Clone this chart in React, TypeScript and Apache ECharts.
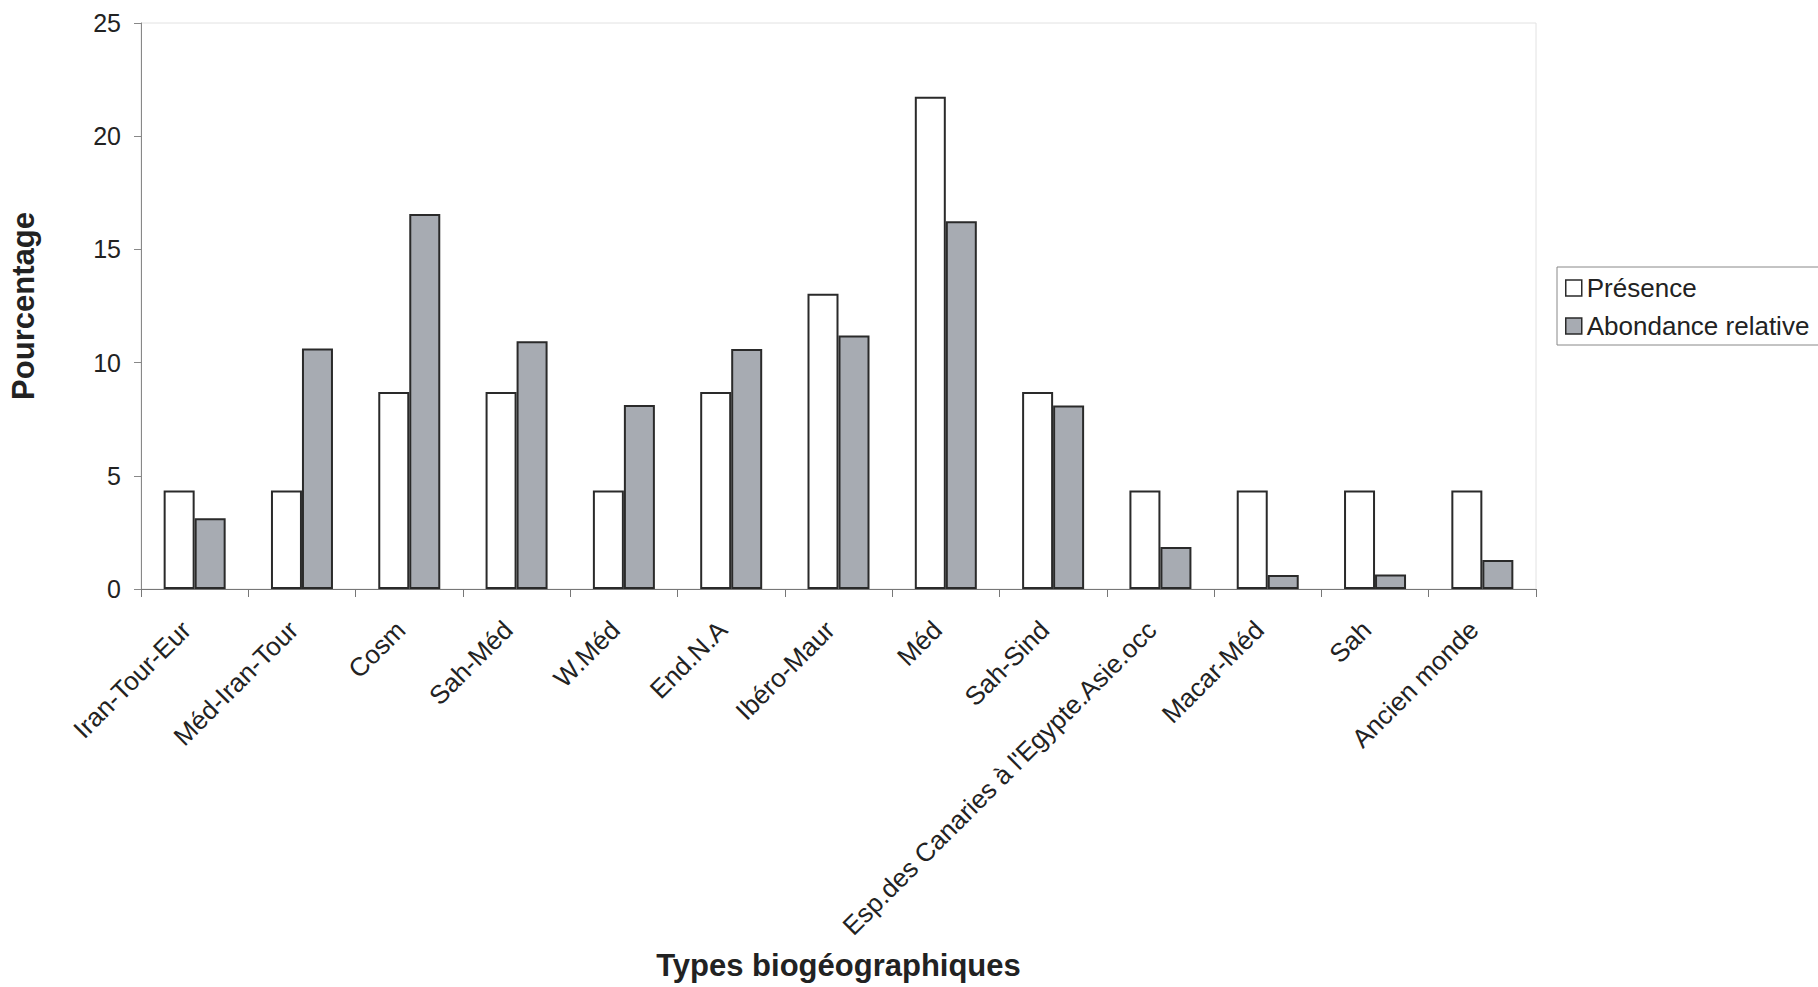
import React, { useEffect, useRef } from "react";
import * as echarts from "echarts";

const categories = [
  "Iran-Tour-Eur",
  "Méd-Iran-Tour",
  "Cosm",
  "Sah-Méd",
  "W.Méd",
  "End.N.A",
  "Ibéro-Maur",
  "Méd",
  "Sah-Sind",
  "Esp.des Canaries à l'Egypte.Asie.occ",
  "Macar-Méd",
  "Sah",
  "Ancien monde",
];

const presence = [4.35, 4.35, 8.7, 8.7, 4.35, 8.7, 13.04, 21.74, 8.7, 4.35, 4.35, 4.35, 4.35];
const abondance = [3.13, 10.62, 16.56, 10.94, 8.13, 10.6, 11.2, 16.24, 8.1, 1.86, 0.62, 0.64, 1.28];

const yTicks = { min: 0, max: 25, interval: 5 };

const FONT = "'Liberation Sans', Arial, sans-serif";

export default function App() {
  const ref = useRef<HTMLDivElement>(null);

  useEffect(() => {
    document.body.style.margin = "0";
    if (!ref.current) return;
    const chart = echarts.init(ref.current, undefined, { renderer: "svg" });
    const white = { color: "#ffffff", borderColor: "#2a2a2a", borderWidth: 2 };
    const gray = { color: "#a7abb2", borderColor: "#2a2a2a", borderWidth: 2 };
    chart.setOption({
      animation: false,
      textStyle: { fontFamily: FONT },
      grid: {
        left: 141,
        right: 282,
        top: 23,
        bottom: 398,
        show: true,
        borderColor: "#e2e2e2",
        borderWidth: 1,
      },
      legend: {
        orient: "vertical",
        left: 1557,
        top: 267,
        itemWidth: 16,
        itemHeight: 16,
        itemGap: 12,
        padding: [8, 40, 6, 8],
        borderColor: "#888",
        borderWidth: 1,
        textStyle: { fontSize: 26, color: "#222", fontFamily: FONT },
        data: [
          { name: "Présence", icon: "rect", itemStyle: { color: "#fff", borderColor: "#2a2a2a", borderWidth: 1.5 } },
          { name: "Abondance relative", icon: "rect", itemStyle: { color: "#a7abb2", borderColor: "#2a2a2a", borderWidth: 1.5 } },
        ],
      },
      xAxis: {
        type: "category",
        data: categories,
        axisLine: { lineStyle: { color: "#777", width: 1 } },
        axisTick: { show: true, length: 8, lineStyle: { color: "#777" } },
        axisLabel: {
          rotate: 45,
          interval: 0,
          margin: 28,
          padding: [0, 12, 0, 0],
          fontSize: 26,
          color: "#222",
          fontFamily: FONT,
        },
        name: "Types biogéographiques",
        nameLocation: "middle",
        nameGap: 361,
        nameTextStyle: { fontSize: 31, fontWeight: "bold", color: "#222", fontFamily: FONT },
      },
      yAxis: {
        type: "value",
        min: yTicks.min,
        max: yTicks.max,
        interval: yTicks.interval,
        axisLine: { show: true, lineStyle: { color: "#888", width: 1 } },
        axisTick: { show: true, length: 7, lineStyle: { color: "#888" } },
        splitLine: { show: false },
        axisLabel: { fontSize: 25, color: "#222", margin: 20, fontFamily: FONT },
        name: "Pourcentage",
        nameLocation: "middle",
        nameGap: 102,
        nameTextStyle: { fontSize: 31, fontWeight: "bold", color: "#222", fontFamily: FONT },
      },
      series: [
        {
          name: "Présence",
          type: "bar",
          data: presence,
          barWidth: 31,
          barGap: "0%",
          itemStyle: white,
        },
        {
          name: "Abondance relative",
          type: "bar",
          data: abondance,
          barWidth: 31,
          barGap: "0%",
          itemStyle: gray,
        },
      ],
    });
    return () => chart.dispose();
  }, []);

  return <div ref={ref} style={{ width: 1818, height: 987 }} />;
}
